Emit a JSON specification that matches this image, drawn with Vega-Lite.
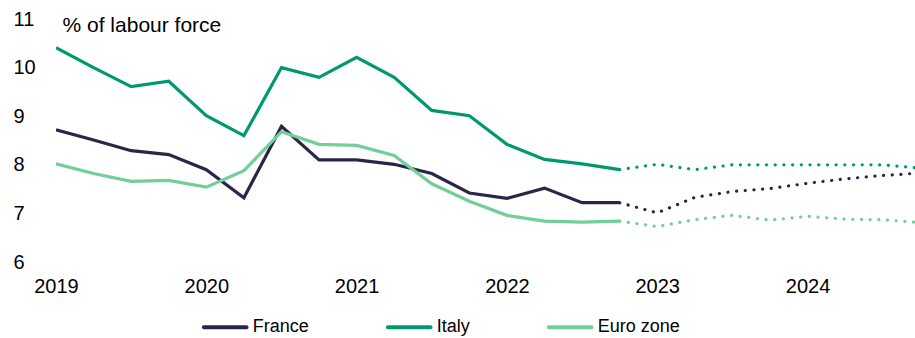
{
  "$schema": "https://vega.github.io/schema/vega-lite/v6.json",
  "width": 859,
  "height": 243,
  "autosize": {"type": "none"},
  "padding": {"left": 56, "top": 19, "right": 0, "bottom": 76},
  "config": {
    "font": "Liberation Sans",
    "view": {"stroke": null}
  },
  "data": {
    "values": [
      {"c": "France", "t": 2019.0, "v": 8.72, "s": "actual"},
      {"c": "France", "t": 2019.25, "v": 8.51, "s": "actual"},
      {"c": "France", "t": 2019.5, "v": 8.29, "s": "actual"},
      {"c": "France", "t": 2019.75, "v": 8.21, "s": "actual"},
      {"c": "France", "t": 2020.0, "v": 7.9, "s": "actual"},
      {"c": "France", "t": 2020.25, "v": 7.32, "s": "actual"},
      {"c": "France", "t": 2020.5, "v": 8.79, "s": "actual"},
      {"c": "France", "t": 2020.75, "v": 8.1, "s": "actual"},
      {"c": "France", "t": 2021.0, "v": 8.1, "s": "actual"},
      {"c": "France", "t": 2021.25, "v": 8.01, "s": "actual"},
      {"c": "France", "t": 2021.5, "v": 7.82, "s": "actual"},
      {"c": "France", "t": 2021.75, "v": 7.42, "s": "actual"},
      {"c": "France", "t": 2022.0, "v": 7.31, "s": "actual"},
      {"c": "France", "t": 2022.25, "v": 7.52, "s": "actual"},
      {"c": "France", "t": 2022.5, "v": 7.22, "s": "actual"},
      {"c": "France", "t": 2022.75, "v": 7.22, "s": "actual"},
      {"c": "Italy", "t": 2019.0, "v": 10.41, "s": "actual"},
      {"c": "Italy", "t": 2019.25, "v": 10.0, "s": "actual"},
      {"c": "Italy", "t": 2019.5, "v": 9.61, "s": "actual"},
      {"c": "Italy", "t": 2019.75, "v": 9.72, "s": "actual"},
      {"c": "Italy", "t": 2020.0, "v": 9.01, "s": "actual"},
      {"c": "Italy", "t": 2020.25, "v": 8.6, "s": "actual"},
      {"c": "Italy", "t": 2020.5, "v": 10.0, "s": "actual"},
      {"c": "Italy", "t": 2020.75, "v": 9.8, "s": "actual"},
      {"c": "Italy", "t": 2021.0, "v": 10.21, "s": "actual"},
      {"c": "Italy", "t": 2021.25, "v": 9.8, "s": "actual"},
      {"c": "Italy", "t": 2021.5, "v": 9.12, "s": "actual"},
      {"c": "Italy", "t": 2021.75, "v": 9.01, "s": "actual"},
      {"c": "Italy", "t": 2022.0, "v": 8.42, "s": "actual"},
      {"c": "Italy", "t": 2022.25, "v": 8.11, "s": "actual"},
      {"c": "Italy", "t": 2022.5, "v": 8.02, "s": "actual"},
      {"c": "Italy", "t": 2022.75, "v": 7.9, "s": "actual"},
      {"c": "Euro zone", "t": 2019.0, "v": 8.02, "s": "actual"},
      {"c": "Euro zone", "t": 2019.25, "v": 7.82, "s": "actual"},
      {"c": "Euro zone", "t": 2019.5, "v": 7.66, "s": "actual"},
      {"c": "Euro zone", "t": 2019.75, "v": 7.68, "s": "actual"},
      {"c": "Euro zone", "t": 2020.0, "v": 7.54, "s": "actual"},
      {"c": "Euro zone", "t": 2020.25, "v": 7.88, "s": "actual"},
      {"c": "Euro zone", "t": 2020.5, "v": 8.68, "s": "actual"},
      {"c": "Euro zone", "t": 2020.75, "v": 8.42, "s": "actual"},
      {"c": "Euro zone", "t": 2021.0, "v": 8.4, "s": "actual"},
      {"c": "Euro zone", "t": 2021.25, "v": 8.19, "s": "actual"},
      {"c": "Euro zone", "t": 2021.5, "v": 7.61, "s": "actual"},
      {"c": "Euro zone", "t": 2021.75, "v": 7.25, "s": "actual"},
      {"c": "Euro zone", "t": 2022.0, "v": 6.96, "s": "actual"},
      {"c": "Euro zone", "t": 2022.25, "v": 6.84, "s": "actual"},
      {"c": "Euro zone", "t": 2022.5, "v": 6.82, "s": "actual"},
      {"c": "Euro zone", "t": 2022.75, "v": 6.84, "s": "actual"},
      {"c": "France", "t": 2022.75, "v": 7.22, "s": "forecast"},
      {"c": "France", "t": 2023.0, "v": 7.01, "s": "forecast"},
      {"c": "France", "t": 2023.25, "v": 7.33, "s": "forecast"},
      {"c": "France", "t": 2023.5, "v": 7.45, "s": "forecast"},
      {"c": "France", "t": 2023.75, "v": 7.51, "s": "forecast"},
      {"c": "France", "t": 2024.0, "v": 7.62, "s": "forecast"},
      {"c": "France", "t": 2024.25, "v": 7.71, "s": "forecast"},
      {"c": "France", "t": 2024.5, "v": 7.78, "s": "forecast"},
      {"c": "France", "t": 2024.75, "v": 7.83, "s": "forecast"},
      {"c": "Italy", "t": 2022.75, "v": 7.9, "s": "forecast"},
      {"c": "Italy", "t": 2023.0, "v": 8.01, "s": "forecast"},
      {"c": "Italy", "t": 2023.25, "v": 7.9, "s": "forecast"},
      {"c": "Italy", "t": 2023.5, "v": 8.0, "s": "forecast"},
      {"c": "Italy", "t": 2023.75, "v": 8.0, "s": "forecast"},
      {"c": "Italy", "t": 2024.0, "v": 8.0, "s": "forecast"},
      {"c": "Italy", "t": 2024.25, "v": 8.0, "s": "forecast"},
      {"c": "Italy", "t": 2024.5, "v": 8.0, "s": "forecast"},
      {"c": "Italy", "t": 2024.75, "v": 7.93, "s": "forecast"},
      {"c": "Euro zone", "t": 2022.75, "v": 6.84, "s": "forecast"},
      {"c": "Euro zone", "t": 2023.0, "v": 6.73, "s": "forecast"},
      {"c": "Euro zone", "t": 2023.25, "v": 6.87, "s": "forecast"},
      {"c": "Euro zone", "t": 2023.5, "v": 6.96, "s": "forecast"},
      {"c": "Euro zone", "t": 2023.75, "v": 6.86, "s": "forecast"},
      {"c": "Euro zone", "t": 2024.0, "v": 6.94, "s": "forecast"},
      {"c": "Euro zone", "t": 2024.25, "v": 6.88, "s": "forecast"},
      {"c": "Euro zone", "t": 2024.5, "v": 6.87, "s": "forecast"},
      {"c": "Euro zone", "t": 2024.75, "v": 6.81, "s": "forecast"}
    ]
  },
  "encoding": {
    "x": {
      "field": "t",
      "type": "quantitative",
      "scale": {"domain": [2019, 2024.715], "nice": false, "zero": false},
      "axis": {
        "values": [2019, 2020, 2021, 2022, 2023, 2024],
        "format": "d",
        "title": null,
        "domain": false,
        "ticks": false,
        "tickSize": 0,
        "grid": false,
        "labelFontSize": 20,
        "labelColor": "#000000",
        "labelPadding": 14,
        "labelFlush": false,
        "labelOverlap": false
      }
    },
    "y": {
      "field": "v",
      "type": "quantitative",
      "scale": {"domain": [6, 11], "nice": false, "zero": false},
      "axis": {
        "values": [6, 7, 8, 9, 10, 11],
        "title": "% of labour force",
        "titleAngle": 0,
        "titleAlign": "left",
        "titleBaseline": "alphabetic",
        "titleX": 6,
        "titleY": 12,
        "titleFontSize": 21,
        "titleFontWeight": "normal",
        "titleColor": "#000000",
        "domain": false,
        "ticks": false,
        "tickSize": 0,
        "grid": false,
        "labelFontSize": 20,
        "labelColor": "#000000",
        "labelAlign": "left",
        "labelPadding": 43,
        "labelFlush": false,
        "labelOverlap": false
      }
    },
    "color": {
      "field": "c",
      "type": "nominal",
      "scale": {
        "domain": ["France", "Italy", "Euro zone"],
        "range": ["#2b2547", "#00996f", "#72cf9a"]
      },
      "legend": {
        "title": null,
        "orient": "none",
        "direction": "horizontal",
        "legendX": 145.7,
        "legendY": 284.6,
        "padding": 0,
        "symbolType": "stroke",
        "symbolSize": 1823,
        "symbolStrokeWidth": 4,
        "symbolDash": [1, 0],
        "labelFontSize": 18,
        "labelColor": "#000000",
        "labelOffset": 4,
        "columnPadding": 70,
        "encode": {"symbols": {"update": {"strokeCap": {"value": "round"}}}}
      }
    }
  },
  "layer": [
    {
      "transform": [{"filter": "datum.s === 'actual'"}],
      "mark": {"type": "line", "strokeWidth": 3.2, "clip": true, "strokeJoin": "miter"}
    },
    {
      "transform": [{"filter": "datum.s === 'forecast'"}],
      "mark": {"type": "line", "strokeWidth": 3.2, "clip": true, "strokeDash": [0.1, 8.6], "strokeCap": "round"}
    }
  ]
}
